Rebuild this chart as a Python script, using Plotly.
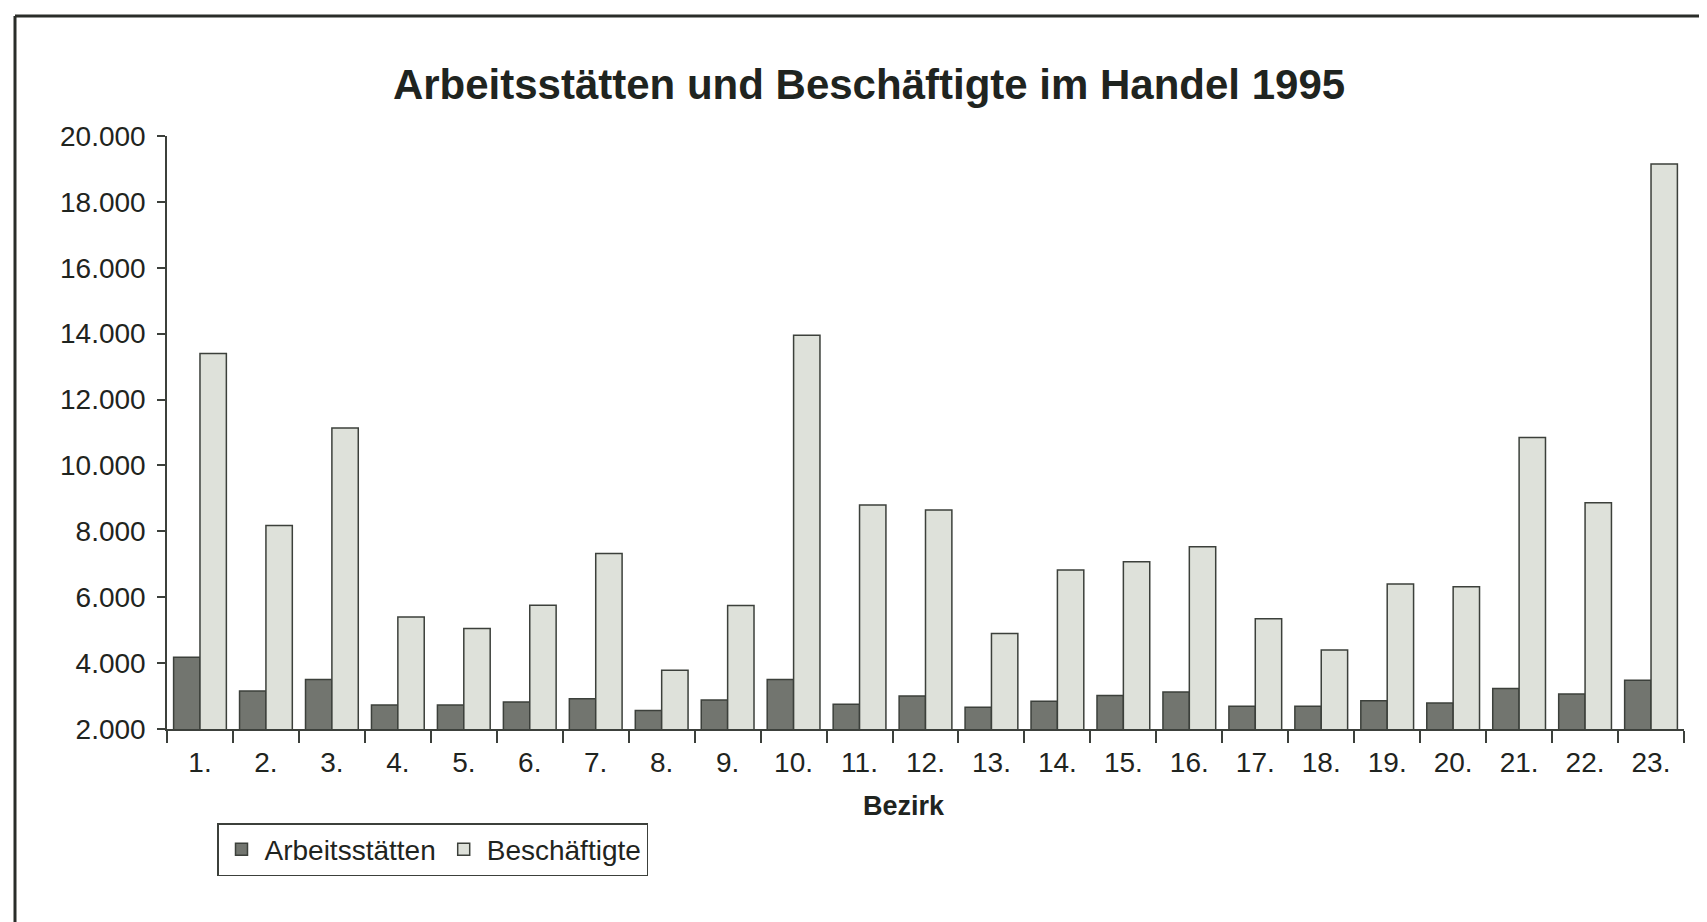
import plotly.graph_objects as go

bezirke = [f"{i}." for i in range(1, 24)]
arbeitsstaetten = [4180, 3150, 3500, 2730, 2730, 2820, 2920, 2560, 2880, 3500, 2750, 3000,
                   2660, 2840, 3020, 3120, 2690, 2690, 2860, 2790, 3230, 3060, 3480]
beschaeftigte = [13400, 8180, 11140, 5400, 5050, 5760, 7330, 3780, 5750, 13950, 8800, 8650,
                 4900, 6830, 7080, 7530, 5350, 4400, 6400, 6320, 10850, 8870, 19150]
y_ticks = [2000, 4000, 6000, 8000, 10000, 12000, 14000, 16000, 18000, 20000]

# page has an 8px body margin; figure coordinates = screen coordinates - 8
O = 8
W, H = 1707 - O, 922 - O
L, T = 167 - O, 136 - O
R = W - (1684 - O)
B = H - (729 - O)
pw, ph = W - L - R, H - T - B

line_col = "#3c403b"
text_col = "#1f2420"
font_family = "Liberation Sans, Arial, sans-serif"

fig = go.Figure()
fig.add_trace(go.Bar(x=bezirke, y=arbeitsstaetten, name="Arbeitsstätten",
                     marker=dict(color="#72756f", line=dict(color=line_col, width=1.5))))
fig.add_trace(go.Bar(x=bezirke, y=beschaeftigte, name="Beschäftigte",
                     marker=dict(color="#dee1da", line=dict(color=line_col, width=1.5))))

def px_x(x):
    return (x - O - L) / pw

def px_y(y):
    return (H - B - (y - O)) / ph

fig.update_layout(
    width=W, height=H,
    margin=dict(l=L, r=R, t=T, b=B),
    paper_bgcolor="white", plot_bgcolor="white",
    separators=",.",
    barmode="group", bargap=0.2, bargroupgap=0,
    font=dict(family=font_family, color=text_col, size=28),
    title=dict(text="<b>Arbeitsstätten und Beschäftigte im Handel 1995</b>",
               x=(869 - O) / W, xanchor="center", y=1 - (84 - O) / H, yanchor="middle",
               font=dict(size=42, color=text_col, family=font_family)),
    xaxis=dict(showline=True, linecolor=line_col, linewidth=1.5,
               ticks="outside", ticklen=12, tickcolor=line_col, tickwidth=1.5,
               ticklabelstandoff=8,
               tickson="boundaries", showgrid=False,
               tickfont=dict(size=28, color=text_col)),
    yaxis=dict(range=[2000, 20000], tickvals=y_ticks, tickformat=",.0f",
               showline=True, linecolor=line_col, linewidth=1.5,
               ticks="outside", ticklen=8, tickcolor=line_col, tickwidth=1.5,
               ticklabelstandoff=6,
               showgrid=False, zeroline=False,
               tickfont=dict(size=28, color=text_col)),
    legend=dict(orientation="h", x=px_x(217), xanchor="left", y=px_y(823), yanchor="top",
                bordercolor=line_col, borderwidth=1.5, bgcolor="white",
                font=dict(size=28, color=text_col), traceorder="normal",
                itemwidth=36),
    showlegend=True,
)

fig.add_annotation(text="<b>Bezirk</b>", xref="paper", yref="paper",
                   x=px_x(904), y=px_y(806), xanchor="center", yanchor="middle",
                   showarrow=False, font=dict(size=27, color=text_col))

# outer frame (top and left edges)
fig.add_shape(type="line", xref="paper", yref="paper",
              x0=px_x(15), x1=px_x(1707), y0=px_y(16), y1=px_y(16),
              line=dict(color="#2a2d29", width=3))
fig.add_shape(type="line", xref="paper", yref="paper",
              x0=px_x(15), x1=px_x(15), y0=px_y(16), y1=px_y(922),
              line=dict(color="#2a2d29", width=3))

fig.write_html("out.html")
